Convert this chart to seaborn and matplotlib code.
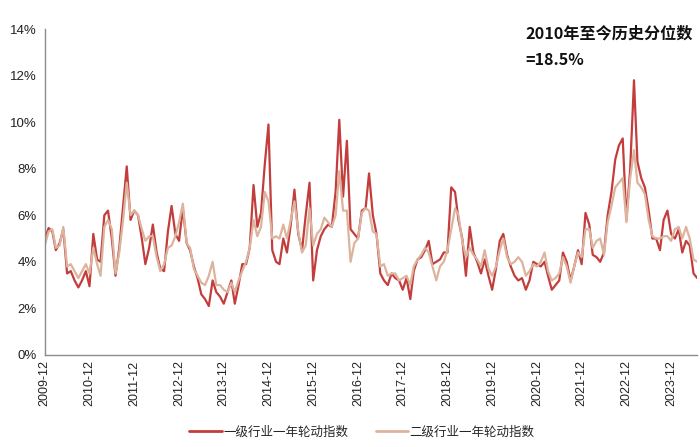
import matplotlib
matplotlib.use("Agg")
import matplotlib.pyplot as plt
import pandas as pd
import seaborn as sns
from matplotlib.ticker import FuncFormatter
from matplotlib.lines import Line2D

sns.set_style("white")
plt.rcParams['font.family'] = ['Liberation Sans', 'Noto Sans CJK SC', 'DejaVu Sans']

# ---- data (monthly, 2009-12 .. 2024-07), values in % ----
series_names = ["一级行业一年轮动指数", "二级行业一年轮动指数"]
start_month = "2009-12-01"

level1 = [
    5.0, 5.45, 5.3, 4.5, 4.8, 5.4, 3.5, 3.6, 3.2, 2.9, 3.2, 3.6,
    2.95, 5.2, 4.1, 4.0, 6.0, 6.2, 5.0, 3.4, 4.6, 6.4, 8.1, 5.8,
    6.2, 6.0, 5.0, 3.9, 4.6, 5.6, 4.4, 3.7, 3.6, 5.3, 6.4, 5.2,
    4.9, 6.3, 4.8, 4.5, 3.8, 3.3, 2.6, 2.4, 2.1, 3.2, 2.7, 2.5,
    2.2, 2.7, 3.2, 2.2, 3.0, 3.9, 3.9, 4.6, 7.3, 5.5, 6.1, 8.2,
    9.9, 4.5, 4.0, 3.9, 5.0, 4.4, 5.6, 7.1, 5.2, 4.5, 6.0, 7.4,
    3.2, 4.5, 5.1, 5.4, 5.6, 5.5, 7.0, 10.1, 6.8, 9.2, 5.4, 5.2,
    5.0, 6.2, 6.3, 7.8, 6.0, 5.2, 3.5, 3.2, 3.0, 3.5, 3.3, 3.2,
    2.8, 3.3, 2.4, 3.6, 4.1, 4.2, 4.5, 4.9, 3.9, 4.0, 4.1, 4.4,
    4.4, 7.2, 7.0, 5.8, 5.0, 3.4, 5.5, 4.4, 4.0, 3.5, 4.1, 3.4,
    2.8, 3.7, 4.9, 5.2, 4.3, 3.8, 3.4, 3.2, 3.3, 2.8, 3.2, 4.0,
    3.9, 3.8, 4.0, 3.4, 2.8, 3.0, 3.2, 4.4, 4.0, 3.2, 3.8, 4.5,
    3.9, 6.1, 5.6, 4.3, 4.2, 4.0, 4.4, 6.0, 7.0, 8.4, 9.0, 9.3,
    5.8, 8.0, 11.8, 8.3, 7.6, 7.2, 6.2, 5.0, 5.0, 4.5, 5.8, 6.2,
    5.2, 5.0, 5.4, 4.4, 4.9, 4.7, 3.5, 3.3,
]

level2 = [
    4.7, 5.3, 5.4, 4.6, 4.7, 5.5, 3.8, 3.9, 3.6, 3.3, 3.6, 3.9,
    3.5, 4.6, 3.9, 3.4, 5.5, 5.8, 5.4, 3.5, 4.4, 5.8, 7.4, 6.0,
    6.2, 6.0, 5.4, 4.9, 5.1, 5.1, 4.2, 3.6, 3.9, 4.6, 4.7, 5.1,
    5.7, 6.5, 4.8, 4.6, 3.7, 3.4, 3.1, 3.0, 3.4, 4.0, 3.0, 3.0,
    2.8, 2.7, 3.1, 2.7, 3.2, 3.6, 4.0, 4.6, 5.8, 5.1, 5.5, 7.0,
    6.6, 5.0, 5.1, 5.0, 5.6, 5.0, 5.8, 6.6, 5.3, 4.4, 4.7, 6.3,
    4.7, 5.2, 5.4, 5.9, 5.7, 5.5, 6.0, 7.9, 6.2, 6.2, 4.0, 4.8,
    5.0, 6.1, 6.3, 6.2, 5.3, 5.2, 3.8, 3.9, 3.4, 3.5, 3.5, 3.2,
    3.3, 3.4, 3.0, 3.8, 4.1, 4.3, 4.6, 4.4, 3.8, 3.2, 3.8, 4.0,
    4.5, 5.4, 6.3, 6.0, 4.9, 4.2, 4.6, 4.3, 4.1, 3.8, 4.5, 3.7,
    3.4, 3.8, 4.5, 5.0, 4.2, 3.9, 4.0, 4.2, 4.0, 3.4, 3.6, 3.9,
    3.8, 4.0, 4.4, 3.6, 3.2, 3.3, 3.5, 4.2, 3.8, 3.1, 3.8, 4.4,
    4.2, 5.4, 5.4, 4.6, 4.9, 5.0, 4.3, 5.7, 6.4, 7.2, 7.4, 7.6,
    5.7, 7.6, 8.8, 7.4, 7.2, 6.9, 5.8, 5.1, 5.0, 5.0, 5.1, 5.1,
    4.9, 5.4, 5.5, 5.0, 5.5, 5.0, 4.1, 4.0,
]

tick_labels = ["2009-12", "2010-12", "2011-12", "2012-12", "2013-12", "2014-12",
               "2015-12", "2016-12", "2017-12", "2018-12", "2019-12", "2020-12",
               "2021-12", "2022-12", "2023-12"]
y_ticks = [0, 2, 4, 6, 8, 10, 12, 14]
note_line1 = "2010年至今历史分位数"
note_line2 = "=18.5%"

colors = ["#C23D3C", "#DDB39D"]

dates = pd.date_range(start_month, periods=len(level1), freq="MS")
df = pd.concat([
    pd.DataFrame({"date": dates, "value": level1, "series": series_names[0]}),
    pd.DataFrame({"date": dates, "value": level2, "series": series_names[1]}),
])

fig = plt.figure(figsize=(7.0, 4.47), dpi=100)
ax = fig.add_axes([0.064, 0.206, 0.932, 0.729])

sns.lineplot(data=df, x="date", y="value", hue="series", hue_order=series_names,
             palette=colors, linewidth=1.6, ax=ax, legend=False)

ax.set_xlim(dates[0], dates[-1])
ax.set_ylim(0, 14)
ax.set_yticks(y_ticks)
ax.yaxis.set_major_formatter(FuncFormatter(lambda v, p: f"{v:.0f}%"))
tick_pos = pd.to_datetime([t + "-01" for t in tick_labels])
ax.set_xticks(tick_pos)
ax.set_xticklabels(tick_labels, rotation=90)
ax.set_xlabel("")
ax.set_ylabel("")

for s in ["top", "right"]:
    ax.spines[s].set_visible(False)
for s in ["left", "bottom"]:
    ax.spines[s].set_color("#8c8c8c")
    ax.spines[s].set_linewidth(1.0)
ax.tick_params(axis="y", direction="out", length=4, color="#8c8c8c",
               labelsize=9.5, labelcolor="#222222", pad=2)
ax.tick_params(axis="x", direction="in", length=4, color="#8c8c8c",
               labelsize=9, labelcolor="#222222", pad=4)
ax.grid(False)

handles = [Line2D([0], [0], color=colors[0], lw=2),
           Line2D([0], [0], color=colors[1], lw=2)]
fig.legend(handles, series_names, loc="center", bbox_to_anchor=(0.517, 0.034),
           ncol=2, frameon=False, handlelength=2.6, columnspacing=2.2,
           handletextpad=0.1, prop={"family": ["Noto Sans CJK SC"], "size": 9})

fig.text(0.75, 0.926, note_line1, ha="left", va="center", fontsize=11.6,
         fontweight="bold", family=["Noto Sans CJK SC", "DejaVu Sans"], color="#111111")
fig.text(0.75, 0.866, note_line2, ha="left", va="center", fontsize=11.6,
         fontweight="bold", family=["Noto Sans CJK SC", "DejaVu Sans"], color="#111111")

fig.savefig("out.png", dpi=100)
